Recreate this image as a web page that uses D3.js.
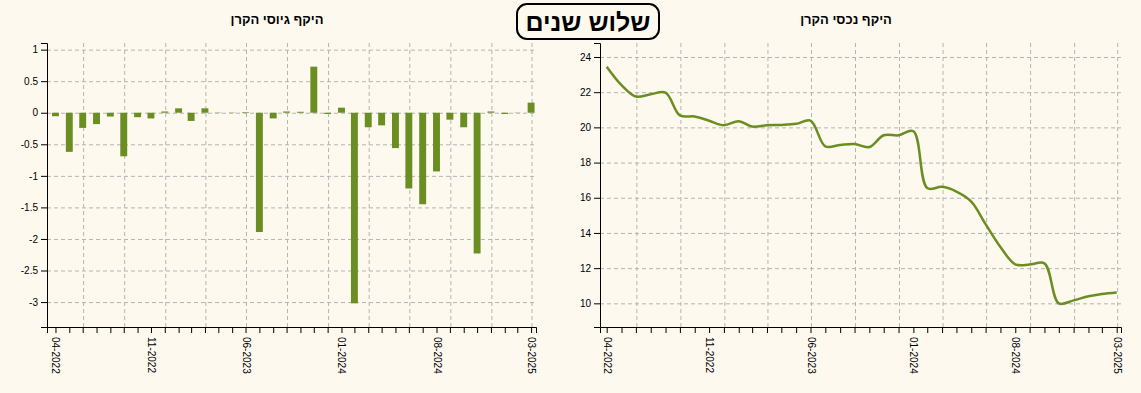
<!DOCTYPE html>
<html>
<head>
<meta charset="utf-8">
<script src="https://cdn.jsdelivr.net/npm/d3@7"></script>
<style>
  body { margin: 0; background: #fdf9ef; }
  svg { display: block; font-family: 'Liberation Sans', Arial, sans-serif; }
  .grid line { stroke: #b4b4b4; stroke-dasharray: 4,3; }
  .grid .domain { display: none; }
  .axis text { font-size: 10px; fill: #000; }
  .axis path, .axis line { stroke: #000; }
</style>
</head>
<body>
<div id="main"></div>
<script>
// data
const months = ['04-2022','05-2022','06-2022','07-2022','08-2022','09-2022','10-2022','11-2022','12-2022',
  '01-2023','02-2023','03-2023','04-2023','05-2023','06-2023','07-2023','08-2023','09-2023','10-2023','11-2023','12-2023',
  '01-2024','02-2024','03-2024','04-2024','05-2024','06-2024','07-2024','08-2024','09-2024','10-2024','11-2024','12-2024',
  '01-2025','02-2025','03-2025'];
const tickLabels = ['04-2022','11-2022','06-2023','01-2024','08-2024','03-2025'];

// fund raising (left, bars)
const raisingValues = [-0.055, -0.62, -0.24, -0.18, -0.06, -0.69, -0.07, -0.09, 0.02, 0.07, -0.13, 0.07,
  -0.005, -0.005, 0.01, -1.89, -0.09, 0.02, 0.015, 0.73, -0.02, 0.08, -3.02, -0.23,
  -0.2, -0.56, -1.2, -1.45, -0.93, -0.11, -0.23, -2.23, 0.02, -0.02, 0.003, 0.16];

// fund assets (right, line)
const assetValues = [23.45, 22.4, 21.75, 21.88, 21.98, 20.68, 20.62, 20.38, 20.12, 20.35, 20.05, 20.12,
  20.14, 20.2, 20.38, 18.92, 19.0, 19.05, 18.88, 19.55, 19.55, 19.78, 16.55, 16.62,
  16.35, 15.78, 14.5, 13.2, 12.22, 12.2, 12.27, 10.0, 10.17, 10.4, 10.53, 10.62];

const raisingTitle = 'היקף גיוסי הקרן';
const assetTitle = 'היקף נכסי הקרן';
const periodLabel = 'שלוש שנים';

const mainColor = '#6b8e23';
const bg = '#fdf9ef';

const parseMonth = d3.timeParse('%m-%Y');
const fmtMonth = d3.timeFormat('%m-%Y');
// points sit at the last day of each month
const dates = months.map(m => d3.timeDay.offset(d3.timeMonth.offset(parseMonth(m), 1), -1));

const svg = d3.select('#main').append('svg').attr('width', 1141).attr('height', 393);
svg.append('rect').attr('width', 1141).attr('height', 393).attr('fill', bg);

renderRaising();
renderAssets();
renderHeader();

function makeScales(box, values, padStart, padEnd) {
    let x = d3.scaleTime()
        .domain([d3.timeDay.offset(dates[0], -padStart), d3.timeDay.offset(dates[dates.length - 1], padEnd)])
        .range([box.left, box.right]);
    let lo = d3.min(values), hi = d3.max(values), pad = (hi - lo) * 0.1;
    let y = d3.scaleLinear().domain([lo - pad, hi + pad]).range([box.bottom, box.top]);
    return {x, y};
}

function drawGrid(box, s) {
    svg.append('g').attr('class', 'grid')
        .attr('transform', `translate(0,${box.bottom})`)
        .call(d3.axisBottom(s.x).ticks(d3.timeMonth.every(3)).tickSize(-(box.bottom - box.top)).tickFormat(''));
    svg.append('g').attr('class', 'grid')
        .attr('transform', `translate(${box.left},0)`)
        .call(d3.axisLeft(s.y).tickSize(-(box.right - box.left)).tickFormat(''));
}

function drawAxes(box, s) {
    let xAxis = svg.append('g').attr('class', 'axis')
        .attr('transform', `translate(0,${box.bottom})`)
        .call(d3.axisBottom(s.x).tickValues(dates).tickSize(6)
            .tickFormat(d => tickLabels.includes(fmtMonth(d)) ? fmtMonth(d) : ''));
    xAxis.selectAll('text')
        .attr('transform', 'rotate(90)')
        .attr('x', 10).attr('y', 0).attr('dy', '.35em')
        .style('text-anchor', 'start');

    svg.append('g').attr('class', 'axis')
        .attr('transform', `translate(${box.left},0)`)
        .call(d3.axisLeft(s.y).tickFormat(d => String(d)));
}

function addTitle(text, cx) {
    svg.append('text')
        .attr('x', cx).attr('y', 24)
        .attr('text-anchor', 'middle')
        .style('font-size', '13px').style('font-weight', 'bold')
        .text(text);
}

function renderRaising() {
    let box = {left: 47, right: 536, top: 43, bottom: 327};
    let s = makeScales(box, raisingValues, 19, 11);
    drawGrid(box, s);

    let barW = (s.x(dates[1]) - s.x(dates[0])) * 0.5;
    svg.append('g').selectAll('rect')
        .data(raisingValues)
        .join('rect')
        .attr('x', (d, i) => s.x(dates[i]) - barW / 2)
        .attr('width', barW)
        .attr('y', d => s.y(Math.max(0, d)))
        .attr('height', d => Math.abs(s.y(d) - s.y(0)))
        .attr('fill', mainColor);

    drawAxes(box, s);
    addTitle(raisingTitle, 277);
}

function renderAssets() {
    let box = {left: 600, right: 1121, top: 43, bottom: 327};
    let s = makeScales(box, assetValues, 14, 9);
    drawGrid(box, s);

    let line = d3.line()
        .x((d, i) => s.x(dates[i]))
        .y(d => s.y(d))
        .curve(d3.curveCatmullRom);
    svg.append('path')
        .datum(assetValues)
        .attr('d', line)
        .attr('fill', 'none')
        .attr('stroke', mainColor)
        .attr('stroke-width', 2.5);

    drawAxes(box, s);
    addTitle(assetTitle, 846);
}

function renderHeader() {
    svg.append('rect')
        .attr('x', 517).attr('y', 4).attr('width', 142).attr('height', 35).attr('rx', 10)
        .attr('fill', bg).attr('stroke', '#000').attr('stroke-width', 2);
    svg.append('text')
        .attr('x', 588).attr('y', 31)
        .attr('text-anchor', 'middle')
        .style('font-size', '25px').style('font-weight', 'bold')
        .text(periodLabel);
}
</script>
</body>
</html>
